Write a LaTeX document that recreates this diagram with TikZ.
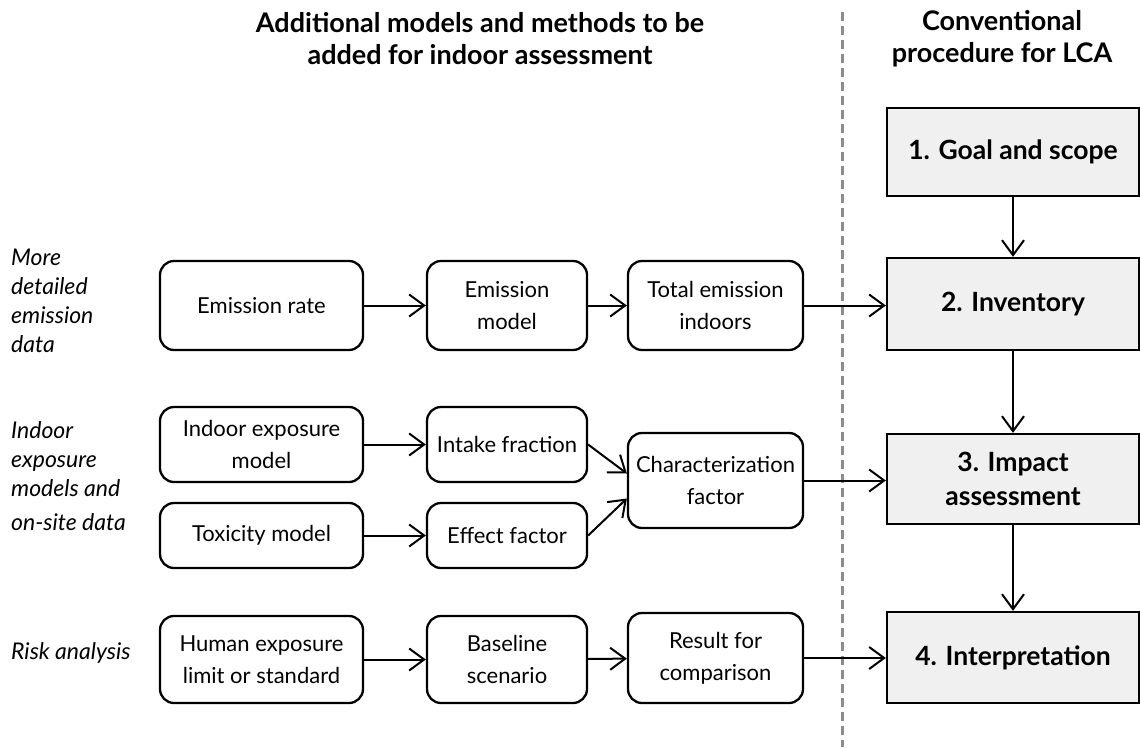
\documentclass[tikz,border=0pt]{standalone}
\usepackage{fontspec}
\setmainfont{Lato}
\usetikzlibrary{arrows.meta}
\definecolor{stagefill}{RGB}{240,240,240}
\definecolor{divider}{RGB}{140,140,140}
\begin{document}
\begin{tikzpicture}[x=1pt,y=-1pt,
  flow/.style={draw=black, line width=2.3pt, rounded corners=14pt, align=center,
    font=\fontsize{22}{32}\selectfont, inner sep=2pt},
  stage/.style={draw=black, line width=2.3pt, fill=stagefill, align=center,
    font=\bfseries\fontsize{26.5}{34}\selectfont, minimum width=252pt, inner sep=2pt},
  heading/.style={align=center, font=\bfseries\fontsize{27}{32}\selectfont, inner sep=0pt},
  rowlabel/.style={anchor=west, align=left, font=\itshape\fontsize{23}{29}\selectfont, inner sep=0pt},
  link/.style={line width=2pt, -{Straight Barb[length=15pt,width=22pt,line width=2pt]}},
]
\useasboundingbox (0,0) rectangle (1140,747);

% headings
\node[heading] (hleft) at (480,39) {Additional models and methods to be\\added for indoor assessment};
\node[heading] (hright) at (1002,39) {Conventional\\procedure for LCA};

% divider between the two parts
\coordinate (dtop) at (842,12);
\coordinate (dbot) at (842,747);
\draw[divider, line width=3pt, dash pattern=on 9pt off 5pt] (dtop) -- (dbot);

% row labels
\node[rowlabel] (l1) at (11,301) {More\\detailed\\emission\\data};
\node[rowlabel] (l2) at (11,476) {Indoor\\exposure\\models and\\[5pt]on-site data};
\node[rowlabel] (l3) at (11,653) {Risk analysis};

% emission row
\node[flow, minimum width=203pt, minimum height=89pt] (er) at (261.5,305.5) {Emission rate};
\node[flow, minimum width=160pt, minimum height=89pt] (em) at (507,305.5) {Emission\\model};
\node[flow, minimum width=175pt, minimum height=89pt] (te) at (715.5,305.5) {Total emission\\indoors};

% exposure and toxicity rows
\node[flow, minimum width=203pt, minimum height=75pt] (ie) at (261.5,444.5) {Indoor exposure\\model};
\node[flow, minimum width=160pt, minimum height=75pt] (if) at (507,444.5) {Intake fraction};
\node[flow, minimum width=203pt, minimum height=65pt] (tm) at (261.5,535.5) {Toxicity model};
\node[flow, minimum width=160pt, minimum height=65pt] (ef) at (507,535.5) {Effect factor};
\node[flow, minimum width=175pt, minimum height=95pt] (cf) at (715.5,480.5) {Characterization\\factor};

% risk row
\node[flow, minimum width=203pt, minimum height=87pt] (he) at (261.5,659.5) {Human exposure\\limit or standard};
\node[flow, minimum width=160pt, minimum height=87pt] (bs) at (507,659.5) {Baseline\\scenario};
\node[flow, minimum width=175pt, minimum height=90pt] (rc) at (715.5,658) {Result for\\comparison};

% LCA stages
\node[stage, minimum height=88pt] (g1) at (1013,152) {1. Goal and scope};
\node[stage, minimum height=92pt] (g2) at (1013,304) {2. Inventory};
\node[stage, minimum height=90pt] (g3) at (1013,479) {3. Impact\\assessment};
\node[stage, minimum height=91pt] (g4) at (1013,657.5) {4. Interpretation};

% connectors
\draw[link] (er) -- (em);
\draw[link] (em) -- (te);
\draw[link] (te.east) -- (te.east -| g2.west);
\draw[link] (ie) -- (if);
\draw[link] (tm) -- (ef);
\draw[link] (if.east) -- ([yshift=7pt]cf.west);
\draw[link] (ef.east) -- ([yshift=-18pt]cf.west);
\draw[link] (cf.east) -- (cf.east -| g3.west);
\draw[link] (he) -- (bs);
\draw[link] (bs) -- (rc);
\draw[link] (rc.east) -- (rc.east -| g4.west);
\draw[link] (g1) -- (g2);
\draw[link] (g2) -- (g3);
\draw[link] (g3) -- (g4);
\end{tikzpicture}
\end{document}
